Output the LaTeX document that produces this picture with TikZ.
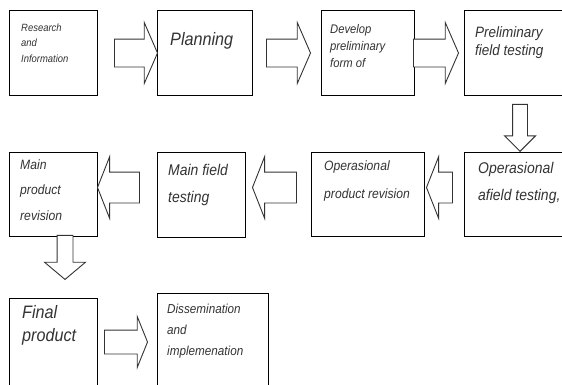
\documentclass[tikz,border=0pt]{standalone}
\usepackage{fontspec}
\setmainfont{Liberation Sans}[FakeStretch=0.9]
\usetikzlibrary{shapes.arrows}

\newcommand\txtsize[2]{\fontsize{#1}{#2}\selectfont\itshape}

\tikzset{
  stage/.style={draw, line width=1pt, anchor=north west, inner sep=0pt},
  % anchored at the baseline of the last line
  blurb/.style={anchor=base west, align=left, inner sep=0pt, text=black!80},
  % block arrows are placed by their tip
  fat/.style={single arrow, draw=black!80, line width=0.9pt, fill=white,
    single arrow head indent=0pt, anchor=tip},
}

\begin{document}
\begin{tikzpicture}[x=1pt,y=-1pt]
  \useasboundingbox[fill=white] (0,0) rectangle (562,384);
  \clip (0,0) rectangle (562,384);

  % first row
  \node[stage, minimum width=88, minimum height=85] (res) at (9,10) {};
  \node[stage, minimum width=95, minimum height=85] (plan) at (157,10) {};
  \node[stage, minimum width=93, minimum height=85] (dev) at (321,10) {};
  \node[stage, minimum width=110, minimum height=85] (pre) at (464,10) {};

  % second row
  \node[stage, minimum width=110, minimum height=84] (opf) at (464,152) {};
  \node[stage, minimum width=113, minimum height=84] (opp) at (311,152) {};
  \node[stage, minimum width=88, minimum height=85] (mft) at (157,152) {};
  \node[stage, minimum width=88, minimum height=84] (mpr) at (9,152) {};

  % third row
  \node[stage, minimum width=88, minimum height=100] (fin) at (9,298) {};
  \node[stage, minimum width=111, minimum height=100] (dis) at (157,293) {};

  % texts
  \node[blurb, font=\txtsize{10.5}{15.5}] (res-t) at (21,62) {Research\\and\\Information};
  \node[blurb, font=\txtsize{18}{22}] (plan-t) at (170,45) {Planning};
  \node[blurb, font=\txtsize{12.5}{17}] (dev-t) at (330,67) {Develop\\preliminary\\form of};
  \node[blurb, font=\txtsize{15}{18}] (pre-t) at (475,55) {Preliminary\\field testing};
  \node[blurb, font=\txtsize{15.5}{27}] (opf-t) at (478,200) {Operasional\\afield testing,};
  \node[blurb, font=\txtsize{13.5}{28}] (opp-t) at (324,198) {Operasional\\product revision};
  \node[blurb, font=\txtsize{15.5}{27}] (mft-t) at (168,202) {Main field\\testing};
  \node[blurb, font=\txtsize{13.5}{25.5}] (mpr-t) at (20,220) {Main\\product\\revision};
  \node[blurb, font=\txtsize{18}{23}] (fin-t) at (22,341) {Final\\product};
  \node[blurb, font=\txtsize{13}{21}] (dis-t) at (167,355) {Dissemination\\and\\implemenation};

  % block arrows
  \node[fat, inner xsep=2, inner ysep=13.5, minimum width=60, minimum height=43,
    single arrow head extend=16.5, single arrow tip angle=133] (a1) at (158,53) {};
  \node[fat, inner xsep=2, inner ysep=13.5, minimum width=60, minimum height=44,
    single arrow head extend=16.5, single arrow tip angle=133] (a2) at (311,53) {};
  \node[fat, inner xsep=2, inner ysep=13.5, minimum width=60, minimum height=45,
    single arrow head extend=16.5, single arrow tip angle=133] (a3) at (459,53) {};
  \node[fat, inner sep=7, minimum width=30, minimum height=47,
    single arrow head extend=8, single arrow tip angle=90,
    shape border rotate=270] (a4) at (520,152) {};
  \node[fat, inner xsep=2, inner ysep=15, minimum width=61, minimum height=26,
    single arrow head extend=15.5, single arrow tip angle=137,
    shape border rotate=180] (a5) at (426,187.5) {};
  \node[fat, inner xsep=2, inner ysep=15, minimum width=61, minimum height=44,
    single arrow head extend=15.5, single arrow tip angle=137,
    shape border rotate=180] (a6) at (252,187.5) {};
  \node[fat, inner xsep=2, inner ysep=15, minimum width=61, minimum height=42,
    single arrow head extend=15.5, single arrow tip angle=137,
    shape border rotate=180] (a7) at (97,187.5) {};
  \node[fat, inner sep=7.5, minimum width=40, minimum height=44,
    single arrow head extend=12.5, single arrow tip angle=100,
    shape border rotate=270] (a8) at (65,280) {};
  \node[fat, inner xsep=2, inner ysep=11.5, minimum width=50, minimum height=43,
    single arrow head extend=13.5, single arrow tip angle=136] (a9) at (148,342) {};
\end{tikzpicture}
\end{document}
